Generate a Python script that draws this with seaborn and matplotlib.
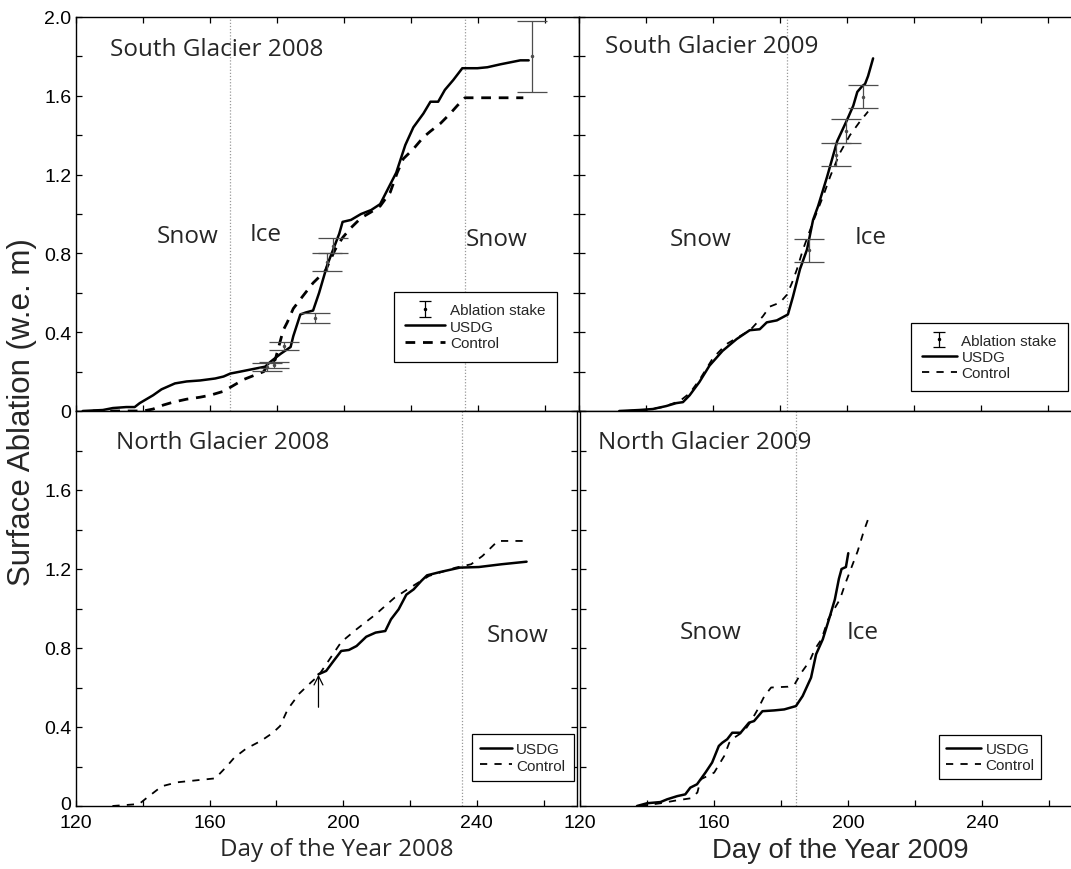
import numpy as np
import matplotlib
matplotlib.use("Agg")
import matplotlib.pyplot as plt
import matplotlib.transforms as mtransforms
from matplotlib.lines import Line2D
import seaborn as sns

# ---------------- data ----------------
# South Glacier 2008
sg08_usdg_day = [122, 128, 131, 135, 137.5, 139, 141, 143, 145.5, 149.5, 153, 157, 161.5, 164, 166,
                 169, 173.4, 176.4, 178, 181, 184, 184.8, 186.9, 188.5, 190.7, 192.5, 194.9, 196.7,
                 198.5, 199.5, 202, 205, 208, 210.7, 212.8, 214.6, 215.5, 218.2, 220.6, 223.6, 225.7,
                 228, 230, 232.5, 235.2, 239.7, 242.7, 246.6, 252.5, 255]
sg08_usdg_abl = [0, 0.005, 0.015, 0.02, 0.02, 0.04, 0.06, 0.08, 0.11, 0.14, 0.15, 0.155, 0.165, 0.175,
                 0.19, 0.2, 0.215, 0.225, 0.25, 0.29, 0.325, 0.38, 0.49, 0.5, 0.51, 0.6, 0.74, 0.82,
                 0.9, 0.96, 0.97, 1.0, 1.02, 1.05, 1.12, 1.18, 1.21, 1.35, 1.44, 1.51, 1.57, 1.57,
                 1.63, 1.68, 1.74, 1.74, 1.745, 1.76, 1.78, 1.78]
sg08_ctrl_day = [125, 140, 143, 146, 149, 153, 157, 160, 164, 167, 170, 173, 176, 177, 179.4, 181.8,
                 183, 184.8, 187.5, 190.7, 194.3, 197.3, 199.5, 202, 205, 208, 210.7, 213.7, 215.8,
                 217.6, 220.6, 223.6, 225.7, 228.7, 231.6, 233.7, 236, 253.4]
sg08_ctrl_abl = [0, 0, 0.01, 0.03, 0.045, 0.06, 0.07, 0.08, 0.1, 0.13, 0.16, 0.18, 0.2, 0.23, 0.26,
                 0.41, 0.45, 0.52, 0.58, 0.65, 0.71, 0.82, 0.88, 0.93, 0.98, 1.01, 1.04, 1.11, 1.21,
                 1.28, 1.33, 1.39, 1.42, 1.46, 1.51, 1.55, 1.59, 1.59]
sg08_stake_day = [177, 179, 182, 191.3, 195, 196.5, 256]
sg08_stake_abl = [0.225, 0.235, 0.33, 0.47, 0.755, 0.84, 1.80]
sg08_stake_err = [0.02, 0.015, 0.02, 0.025, 0.045, 0.04, 0.18]

# South Glacier 2009
sg09_usdg_day = [132, 138, 142, 146, 149, 151, 153, 155.9, 158.9, 162.8, 167, 170.9, 173.9, 176, 179,
                 182.3, 183.8, 185.9, 188, 189.8, 191.3, 194, 197, 200, 201.8, 203, 204.5, 205.3,
                 206.2, 207.7]
sg09_usdg_abl = [0, 0.005, 0.01, 0.025, 0.04, 0.045, 0.08, 0.147, 0.23, 0.305, 0.365, 0.41, 0.415,
                 0.45, 0.46, 0.49, 0.58, 0.72, 0.82, 0.97, 1.04, 1.19, 1.37, 1.48, 1.55, 1.62, 1.65,
                 1.66, 1.70, 1.79]
sg09_ctrl_day = [134, 140, 145, 150, 153, 156, 160, 164, 168, 171, 174.8, 176.9, 179.9, 182, 183.5,
                 185, 186.8, 189.8, 192.8, 194.9, 197.8, 200.8, 203.8, 206.2]
sg09_ctrl_abl = [0, 0.005, 0.02, 0.05, 0.09, 0.16, 0.27, 0.34, 0.38, 0.41, 0.48, 0.53, 0.55, 0.59,
                 0.65, 0.72, 0.82, 0.96, 1.09, 1.19, 1.31, 1.40, 1.47, 1.52]
sg09_stake_day = [188.6, 196.6, 199.6, 204.7]
sg09_stake_abl = [0.815, 1.30, 1.42, 1.595]
sg09_stake_err = [0.058, 0.058, 0.06, 0.058]

# North Glacier 2008
ng08_usdg_day = [192.6, 194.9, 197.1, 199.4, 201.7, 204, 206.9, 209.7, 212.6, 214.3, 216.6, 218.9,
                 221.1, 223.4, 225.1, 229.1, 234.9, 240.6, 247.4, 254.9]
ng08_usdg_abl = [0.667, 0.684, 0.734, 0.785, 0.79, 0.81, 0.857, 0.878, 0.886, 0.945, 0.996, 1.07,
                 1.097, 1.14, 1.168, 1.185, 1.207, 1.21, 1.224, 1.237]
ng08_ctrl_day = [130.9, 138.9, 141.1, 145.7, 150.3, 156, 161.7, 165.1, 167.4, 170.9, 175.4, 178.9,
                 181.1, 183.4, 186.9, 190.3, 192.6, 199.4, 204, 209.7, 215.4, 220, 225.7, 233.7,
                 238.3, 241.7, 246.3, 254.9]
ng08_ctrl_abl = [0, 0.01, 0.04, 0.10, 0.12, 0.13, 0.14, 0.2, 0.245, 0.29, 0.33, 0.37, 0.405, 0.49,
                 0.57, 0.625, 0.66, 0.83, 0.895, 0.97, 1.055, 1.105, 1.165, 1.207, 1.224, 1.266,
                 1.342, 1.342]
ng08_arrow_day = 192.6
ng08_arrow_abl = (0.50, 0.665)

# North Glacier 2009
ng09_usdg_day = [137, 140, 144, 146, 149, 151.4, 152.9, 154.9, 157.4, 159.4, 161.4, 162.4, 163.9,
                 165.4, 167.9, 170.4, 171.9, 174.4, 177.9, 180.9, 184.4, 186.4, 188.9, 190.4, 192.4,
                 194.4, 196, 197.2, 198, 199.3, 200]
ng09_usdg_abl = [0, 0.014, 0.02, 0.034, 0.05, 0.059, 0.093, 0.11, 0.169, 0.22, 0.304, 0.32, 0.338,
                 0.371, 0.371, 0.422, 0.43, 0.48, 0.484, 0.489, 0.506, 0.557, 0.65, 0.768, 0.844,
                 0.954, 1.046, 1.15, 1.2, 1.21, 1.28]
ng09_ctrl_day = [138, 144, 149, 153, 155, 156, 158, 160, 161.5, 163, 164.5, 166, 167.5, 169, 171, 173,
                 175, 177, 182, 184, 186, 188.5, 190, 192, 194, 197.5, 199.2, 201, 202.8, 204.6, 206.5]
ng09_ctrl_abl = [0, 0.014, 0.029, 0.039, 0.068, 0.135, 0.152, 0.169, 0.211, 0.253, 0.32, 0.346,
                 0.363, 0.38, 0.43, 0.489, 0.557, 0.6, 0.604, 0.616, 0.675, 0.734, 0.793, 0.844,
                 0.945, 1.046, 1.13, 1.21, 1.29, 1.39, 1.48]

# snow / ice transition days
transition_sg08 = [166, 236]
transition_sg09 = [182]
transition_ng08 = [235.5]
transition_ng09 = [184.5]

x_ticks = [120, 140, 160, 180, 200, 220, 240, 260]
x_ticklabels = ["120", "", "160", "", "200", "", "240", ""]
y_ticks = [0, 0.2, 0.4, 0.6, 0.8, 1.0, 1.2, 1.4, 1.6, 1.8, 2.0]
y_ticklabels_top = ["0", "", "0.4", "", "0.8", "", "1.2", "", "1.6", "", "2.0"]
y_ticklabels_bottom = ["0", "", "0.4", "", "0.8", "", "1.2", "", "1.6", "", ""]

# ---------------- style ----------------
sns.set_theme(style="white")
plt.rcParams["font.family"] = ["Liberation Sans", "DejaVu Sans"]
HUMANIST = ["Open Sans", "DejaVu Sans"]

W, H = 1071, 870
fig = plt.figure(figsize=(W / 100, H / 100), dpi=100)


def px(x, y):
    return x / W, 1 - y / H


def add_ax(x0, y0, x1, y1):
    return fig.add_axes([x0 / W, 1 - y1 / H, (x1 - x0) / W, (y1 - y0) / H])


def style_axes(ax, xlabels, ylabels, top_ticks):
    ax.set_xlim(120, 270)
    ax.set_ylim(0, 2.0)
    ax.set_facecolor("white")
    for sp in ax.spines.values():
        sp.set_color("black")
        sp.set_linewidth(1.0)
    ax.set_xticks(x_ticks)
    ax.set_yticks(y_ticks)
    ax.set_xticklabels(x_ticklabels if xlabels else [""] * len(x_ticks))
    ax.set_yticklabels(ylabels if ylabels else [""] * len(y_ticks))
    ax.tick_params(direction="in", length=4.5, width=0.9, colors="black",
                   bottom=True, top=top_ticks, left=True, right=True,
                   labelsize=14)
    ax.tick_params(axis="y", pad=3.5)
    ax.tick_params(axis="x", pad=6)
    ax.set_xlabel("")
    ax.set_ylabel("")


def draw(ax, days, vals, dashed=False, lw=1.8, dash=(4, 3)):
    sns.lineplot(x=days, y=vals, ax=ax, color="black", lw=lw, estimator=None,
                 sort=False, linestyle="--" if dashed else "-")
    line = ax.lines[-1]
    if dashed:
        line.set_dashes(dash)
    return line


def stakes(ax, days, vals, errs):
    ax.errorbar(days, vals, yerr=errs, fmt=".", color="0.3", ms=3, lw=0.9,
                capsize=10.5, capthick=0.9, zorder=4)


def transitions(ax, days):
    for d in days:
        ax.axvline(d, color="0.6", ls=(0, (1, 1.5)), lw=0.9, zorder=0)


def legend(ax, anchor, with_stake, ctrl_lw, ctrl_dash, borderpad, handlelength,
           labelspacing=0.15, handletextpad=0.3):
    handles, labels = [], []
    if with_stake:
        proxy = ax.errorbar([np.nan], [np.nan], yerr=[0.1], fmt=".", color="black",
                            ms=3, lw=0.9, capsize=4, capthick=0.9)
        handles.append(proxy)
        labels.append("Ablation stake")
    handles.append(Line2D([], [], color="black", lw=1.8))
    labels.append("USDG")
    handles.append(Line2D([], [], color="black", lw=ctrl_lw, ls="--", dashes=ctrl_dash))
    labels.append("Control")
    leg = ax.legend(handles, labels, loc="upper left", bbox_to_anchor=anchor,
                    borderaxespad=0, fontsize=11, handlelength=handlelength,
                    handletextpad=handletextpad, borderpad=borderpad,
                    labelspacing=labelspacing, fancybox=False, framealpha=1,
                    edgecolor="black")
    leg.get_frame().set_linewidth(0.9)
    return leg


# ---------------- panels ----------------
ax_tl = add_ax(76, 18, 579, 412)
ax_tr = add_ax(579, 18, 1082, 412)
ax_bl = add_ax(76, 412, 577, 807)
ax_br = add_ax(580, 412, 1083, 807)

# South Glacier 2008
transitions(ax_tl, transition_sg08)
draw(ax_tl, sg08_ctrl_day, sg08_ctrl_abl, dashed=True, lw=2.0, dash=(3.5, 2.8))
draw(ax_tl, sg08_usdg_day, sg08_usdg_abl, lw=1.8)
stakes(ax_tl, sg08_stake_day, sg08_stake_abl, sg08_stake_err)
style_axes(ax_tl, False, y_ticklabels_top, True)
legend(ax_tl, ((394 - 76) / 503, (412 - 293) / 394), True, 2.0, (3.5, 2.8),
       borderpad=0.75, handlelength=2.6)

# South Glacier 2009
transitions(ax_tr, transition_sg09)
draw(ax_tr, sg09_ctrl_day, sg09_ctrl_abl, dashed=True, lw=1.3, dash=(4, 4))
draw(ax_tr, sg09_usdg_day, sg09_usdg_abl, lw=1.8)
stakes(ax_tr, sg09_stake_day, sg09_stake_abl, sg09_stake_err)
style_axes(ax_tr, False, None, True)
legend(ax_tr, ((911 - 579) / 503, (412 - 324) / 394), True, 1.3, (4, 4),
       borderpad=0.7, handlelength=2.3)

# North Glacier 2008
transitions(ax_bl, transition_ng08)
draw(ax_bl, ng08_ctrl_day, ng08_ctrl_abl, dashed=True, lw=1.3, dash=(4, 4))
draw(ax_bl, ng08_usdg_day, ng08_usdg_abl, lw=1.8)
ax_bl.annotate("", xy=(ng08_arrow_day, ng08_arrow_abl[1]),
               xytext=(ng08_arrow_day, ng08_arrow_abl[0]),
               arrowprops=dict(arrowstyle="->", color="black", lw=0.9,
                               mutation_scale=16, shrinkA=0, shrinkB=0))
style_axes(ax_bl, True, y_ticklabels_bottom, False)
legend(ax_bl, ((472 - 76) / 501, (807 - 735) / 395), False, 1.3, (4, 4),
       borderpad=0.55, handlelength=2.1, handletextpad=0.25)

# lift the corner "0" a little so it clears the "120" beneath it
zero_label = ax_bl.yaxis.get_major_ticks()[0].label1
zero_label.set_transform(zero_label.get_transform()
                         + mtransforms.ScaledTranslation(0, 3 / 100, fig.dpi_scale_trans))

# North Glacier 2009
transitions(ax_br, transition_ng09)
draw(ax_br, ng09_ctrl_day, ng09_ctrl_abl, dashed=True, lw=1.3, dash=(4, 4))
draw(ax_br, ng09_usdg_day, ng09_usdg_abl, lw=1.8)
style_axes(ax_br, True, None, False)
legend(ax_br, ((939 - 580) / 503, (807 - 736) / 395), False, 1.3, (4, 4),
       borderpad=0.45, handlelength=2.3)

# ---------------- annotations ----------------
def label(x, y, s, size=17.5):
    fig.text(*px(x, y), s, ha="left", va="center", fontsize=size, family=HUMANIST)


label(110, 50, "South Glacier 2008")
label(157, 237, "Snow")
label(250, 235, "Ice")
label(466, 240, "Snow")
label(605, 47, "South Glacier 2009")
label(670, 240, "Snow")
label(855, 238, "Ice")
label(116, 443, "North Glacier 2008")
label(487, 636, "Snow")
label(598, 443, "North Glacier 2009")
label(680, 633, "Snow")
label(847, 633, "Ice")

fig.text(*px(22, 412), "Surface Ablation (w.e. m)", rotation=90, ha="center", va="center",
         fontsize=22.5)
fig.text(*px(337, 850), "Day of the Year 2008", ha="center", va="center", fontsize=17.4,
         family=HUMANIST)
fig.text(*px(840, 851), "Day of the Year 2009", ha="center", va="center", fontsize=19.8)

fig.savefig("out.png", dpi=100, facecolor="white")
